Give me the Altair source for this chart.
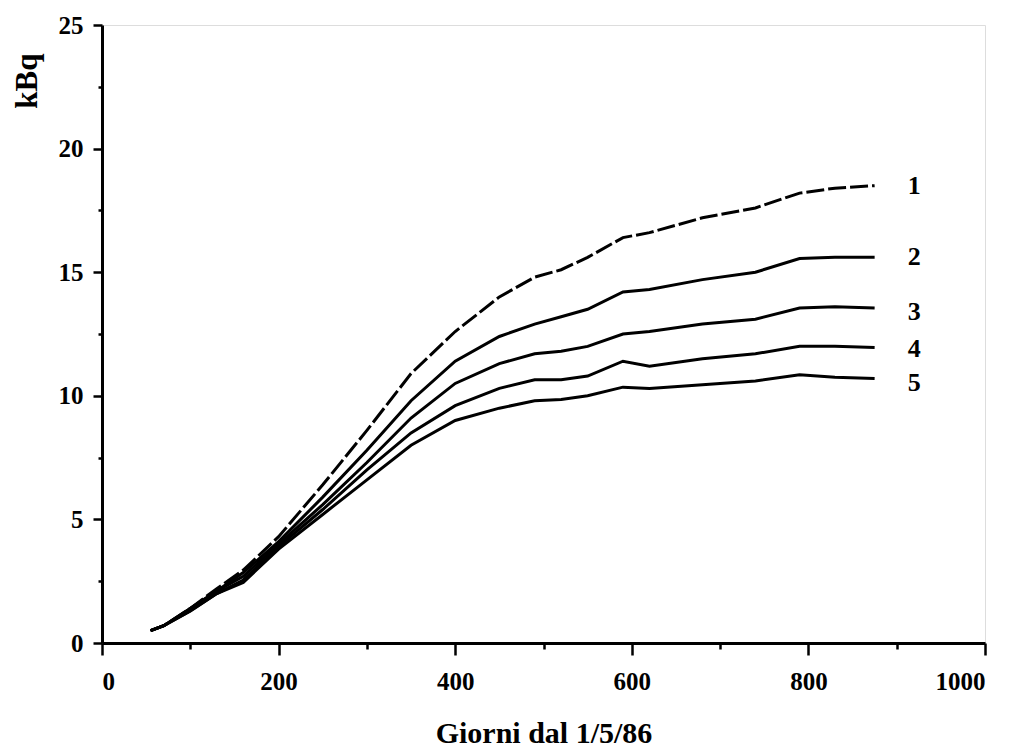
import altair as alt
import pandas as pd

days = [55, 70, 100, 130, 160, 200, 250, 300, 350, 400, 450, 490, 520, 550, 590, 620, 680, 740, 790, 830, 875]
curve1 = [0.5, 0.7, 1.4, 2.2, 2.95, 4.3, 6.4, 8.6, 10.9, 12.6, 14.0, 14.8, 15.1, 15.6, 16.4, 16.6, 17.2, 17.6, 18.2, 18.4, 18.5]
curve2 = [0.5, 0.7, 1.4, 2.1, 2.85, 4.1, 5.9, 7.8, 9.8, 11.4, 12.4, 12.9, 13.2, 13.5, 14.2, 14.3, 14.7, 15.0, 15.55, 15.6, 15.6]
curve3 = [0.5, 0.7, 1.4, 2.1, 2.7, 4.0, 5.6, 7.3, 9.1, 10.5, 11.3, 11.7, 11.8, 12.0, 12.5, 12.6, 12.9, 13.1, 13.55, 13.6, 13.55]
curve4 = [0.5, 0.7, 1.3, 2.0, 2.55, 3.9, 5.4, 7.0, 8.5, 9.6, 10.3, 10.65, 10.65, 10.8, 11.4, 11.2, 11.5, 11.7, 12.0, 12.0, 11.95]
curve5 = [0.5, 0.7, 1.3, 2.0, 2.45, 3.8, 5.2, 6.6, 8.0, 9.0, 9.5, 9.8, 9.85, 10.0, 10.35, 10.3, 10.45, 10.6, 10.85, 10.75, 10.7]

series_names = ["1", "2", "3", "4", "5"]
label_x = [920, 920, 920, 920, 920]
label_y = [18.5, 15.6, 13.4, 11.9, 10.5]

x_ticks = [0, 100, 200, 300, 400, 500, 600, 700, 800, 900, 1000]
y_ticks = [0, 2.5, 5, 7.5, 10, 12.5, 15, 17.5, 20, 22.5, 25]

rows = []
for name, vals in zip(series_names, [curve1, curve2, curve3, curve4, curve5]):
    for d, v in zip(days, vals):
        rows.append({"giorni": d, "kBq": v, "serie": name})
df = pd.DataFrame(rows)
labels = pd.DataFrame({"giorni": label_x, "kBq": label_y, "serie": series_names})

FONT = "Liberation Serif"

xscale = alt.Scale(domain=[0, 1000], nice=False)
yscale = alt.Scale(domain=[0, 25], nice=False)

xaxis = alt.Axis(
    values=x_ticks,
    format="d",
    labelExpr="datum.value % 200 == 0 ? datum.label : ''",
    tickSize={"condition": {"test": "datum.value % 200 != 0", "value": 6}, "value": 12},
    title="Giorni dal 1/5/86",
    grid=False,
    domainColor="black", domainWidth=3,
    tickColor="black", tickWidth=2.5,
    labelFont=FONT, labelFontSize=25, labelFontWeight="bold", labelColor="black",
    labelPadding=14,
    titleFont=FONT, titleFontSize=30, titleFontWeight="bold", titleColor="black",
    titlePadding=24,
)
yaxis = alt.Axis(
    values=y_ticks,
    format="d",
    labelExpr="datum.value % 5 == 0 ? datum.label : ''",
    tickSize={"condition": {"test": "datum.value % 5 != 0", "value": 4}, "value": 9},
    title="kBq",
    grid=False,
    domainColor="black", domainWidth=3,
    tickColor="black", tickWidth=2.5,
    labelFont=FONT, labelFontSize=25, labelFontWeight="bold", labelColor="black",
    labelPadding=10,
    titleFont=FONT, titleFontSize=31, titleFontWeight="bold", titleColor="black",
    titleAngle=-90, titleAlign="right", titleBaseline="middle",
    titleX=-75, titleY=28,
)

base = alt.Chart(df)

line1 = base.transform_filter(alt.datum.serie == "1").mark_line(
    color="black", strokeWidth=3, strokeDash=[18, 4]
).encode(
    x=alt.X("giorni:Q", scale=xscale, axis=xaxis),
    y=alt.Y("kBq:Q", scale=yscale, axis=yaxis),
)
others = base.transform_filter(alt.datum.serie != "1").mark_line(
    color="black", strokeWidth=3
).encode(
    x=alt.X("giorni:Q", scale=xscale),
    y=alt.Y("kBq:Q", scale=yscale),
    detail="serie:N",
)
text = alt.Chart(labels).mark_text(
    font=FONT, fontSize=26, fontWeight="bold", color="black", align="center", baseline="middle"
).encode(
    x=alt.X("giorni:Q", scale=xscale),
    y=alt.Y("kBq:Q", scale=yscale),
    text="serie:N",
)

chart = alt.layer(line1, others, text).properties(
    width=883, height=618,
    autosize=alt.AutoSizeParams(type="none"),
    padding={"left": 102, "top": 25, "right": 28, "bottom": 108},
).configure_view(stroke=None).configure(background="white")

chart.save("out.html", embed_options={"renderer": "svg", "actions": False})
